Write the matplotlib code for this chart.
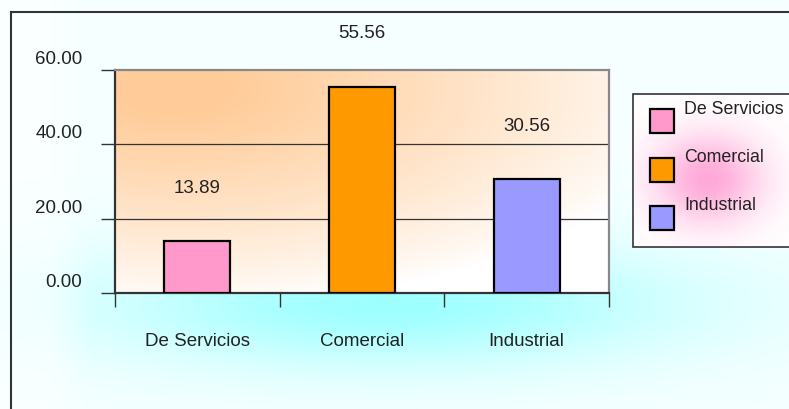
import numpy as np
import matplotlib
matplotlib.use("Agg")
import matplotlib.pyplot as plt
from matplotlib.patches import Rectangle
from matplotlib.transforms import ScaledTranslation

plt.rcParams['font.family'] = ['Liberation Sans Narrow', 'Liberation Sans', 'DejaVu Sans']

categories = ['De Servicios', 'Comercial', 'Industrial']
values = [13.89, 55.56, 30.56]
colors = ['#FF99CC', '#FF9900', '#9999FF']
yticks = [0, 20, 40, 60]

FS = 13.5
W, H = 789, 409
fig = plt.figure(figsize=(W / 100, H / 100), dpi=100)

# background layer in pixel coords
bg = fig.add_axes([0, 0, 1, 1], zorder=-1)
bg.set_xlim(0, W)
bg.set_ylim(H, 0)
bg.axis('off')

yy, xx = np.mgrid[0:H, 0:W] + 0.5
w = 0.1 + 0.9 * np.exp(-((xx - 390) / 290) ** 2 - ((yy - 305) / 62) ** 2)
w = w * np.clip((xx - 10) / 80, 0.5, 1)
w = np.clip(w, 0, 1)[..., None]
cyan = np.array([0.62, 1.0, 1.0])
white = np.ones(3)
img = white * (1 - w) + cyan * w
bg.imshow(img, extent=(0, W, H, 0), aspect='auto', interpolation='bilinear')

# outer frame
bg.plot([11, 11], [H, 11.5], color='#333333', lw=1.5)
bg.plot([11, W], [11.5, 11.5], color='#333333', lw=1.5)

# main axes
ax = fig.add_axes([115 / W, 1 - 293 / H, (609 - 115) / W, (293 - 70) / H])
ax.set_facecolor('none')

# plot area gradient
ph, pw = 223, 494
gy, gx = np.mgrid[0:ph, 0:pw] + 0.5
d = np.sqrt(((gx - 60) / 520) ** 2 + ((gy - 20) / 215) ** 2)
g = np.clip(1 - d, 0, 1) ** 0.85
g = np.clip(g * 1.1, 0, 1)[..., None]
orange = np.array([1.0, 0.8, 0.6])
pimg = white * (1 - g) + orange * g
ax.imshow(pimg, extent=(0, 1, 0, 1), transform=ax.transAxes, aspect='auto',
          interpolation='bilinear', zorder=0)
ax.set_xlim(-0.5, 2.5)
ax.set_ylim(0, 60)

x = np.arange(len(categories))
ax.bar(x, values, width=0.4, color=colors, edgecolor='black', linewidth=1.6, zorder=3)

for i, v in enumerate(values):
    ax.annotate('%.2f' % v, (x[i], v), xytext=(0, 38), textcoords='offset points',
                ha='center', va='center', fontsize=FS, color='#222222')

for yv in yticks[1:-1]:
    ax.axhline(yv, color='#333333', lw=0.9, zorder=1)

for s in ['left', 'bottom']:
    ax.spines[s].set_color('#333333')
    ax.spines[s].set_linewidth(1.6)
for s in ['top', 'right']:
    ax.spines[s].set_color('#888888')
    ax.spines[s].set_linewidth(1.6)

ax.set_yticks(yticks)
ax.set_yticklabels(['%.2f' % t for t in yticks])
ax.tick_params(axis='y', length=10, width=1, color='#333333', pad=13.5, labelsize=FS,
               labelcolor='#222222')
offset = ScaledTranslation(0, 9 / 72, fig.dpi_scale_trans)
for lab in ax.get_yticklabels():
    lab.set_transform(lab.get_transform() + offset)

ax.set_xticks(x)
ax.set_xticklabels(categories)
ax.set_xticks([-0.5, 0.5, 1.5, 2.5], minor=True)
ax.tick_params(axis='x', which='major', length=0, pad=29, labelsize=FS, labelcolor='#222222')
ax.tick_params(axis='x', which='minor', length=10, width=1, color='#333333')

# legend
lx, ly, lw_, lh = 633, 94, 200, 153
box = Rectangle((lx, ly), lw_, lh, facecolor='white', edgecolor='#333333', lw=1.2, zorder=2)
bg.add_patch(box)
ly_, lx_ = np.mgrid[0:lh, 0:lw_] + 0.5
pw_ = 0.75 * np.exp(-((lx_ - 75) / 55) ** 2 - ((ly_ - 85) / 45) ** 2)
pink = np.zeros((lh, lw_, 4))
pink[..., 0] = 1.0
pink[..., 1] = 0.55
pink[..., 2] = 0.8
pink[..., 3] = pw_
gl = bg.imshow(pink, extent=(lx, lx + lw_, ly + lh, ly), aspect='auto',
               interpolation='bilinear', zorder=3)
gl.set_clip_path(box)
bg.set_xlim(0, W)
bg.set_ylim(H, 0)
for i, (c, lab) in enumerate(zip(colors, categories)):
    top = 109 + 48.5 * i
    bg.add_patch(Rectangle((650, top), 24, 24, facecolor=c, edgecolor='black', lw=1.6, zorder=4))
    bg.text(684, top, lab, va='center', ha='left', fontsize=12.8, color='#222222', zorder=5)

fig.savefig('out.png', dpi=100)
